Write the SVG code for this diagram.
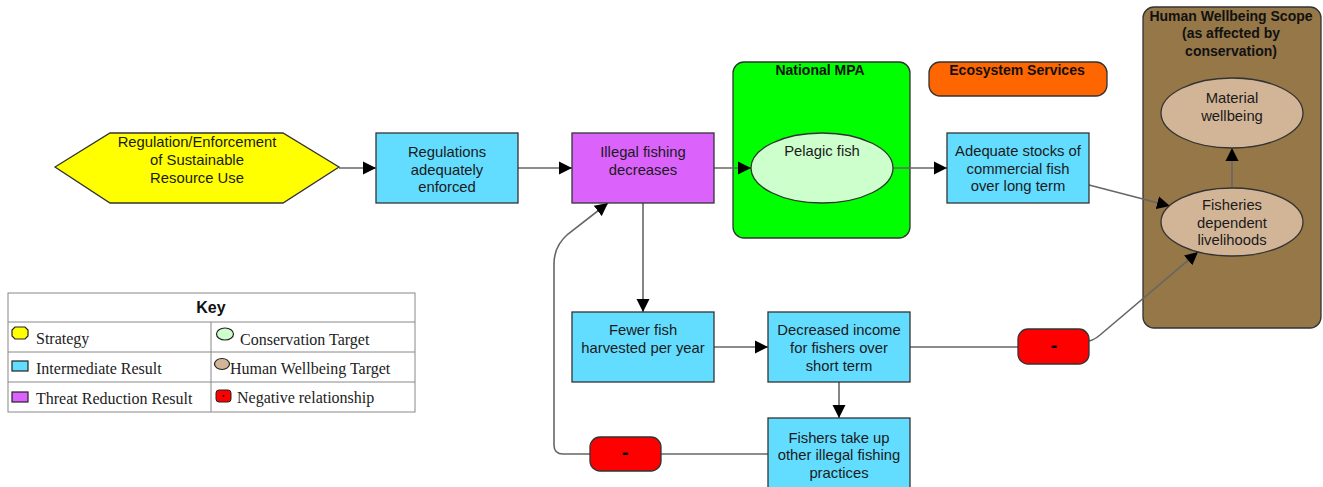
<svg xmlns="http://www.w3.org/2000/svg" width="1323" height="487" viewBox="0 0 1323 487">
  <style>
    .lbl { font-family: "Liberation Sans", Arial, sans-serif; font-size: 14.8px; fill: #1a1a1a; text-anchor: middle; }
    .ttl { font-family: "Liberation Sans", Arial, sans-serif; font-size: 14px; font-weight: bold; fill: #111; text-anchor: middle; }
    .key { font-family: "Liberation Serif", "Times New Roman", serif; font-size: 16px; fill: #222; }
    .ir { fill: #63ddff; stroke: #333; stroke-width: 1.3; }
    .trr { fill: #db63fb; stroke: #333; stroke-width: 1.3; }
    .ct { fill: #ccffcc; stroke: #333; stroke-width: 1.3; }
    .hw { fill: #d2b597; stroke: #333; stroke-width: 1.3; }
    .neg { fill: #ff0000; stroke: #333; stroke-width: 1.3; }
    .minus { font-family: "Liberation Sans", Arial, sans-serif; font-size: 20px; font-weight: bold; fill: #000; text-anchor: middle; }
    .link { fill: none; stroke: #666; stroke-width: 1.6; }
    .arr { marker-end: url(#head); }
    .grid { fill: none; stroke: #888; stroke-width: 1; }
  </style>
  <defs>
    <marker id="head" markerUnits="userSpaceOnUse" markerWidth="14" markerHeight="14" refX="13" refY="7" orient="auto">
      <path d="M0,0.5 L13,7 L0,13.5 z" fill="#000"/>
    </marker>
  </defs>

  <!-- scope containers -->
  <g id="scope-mpa">
    <rect x="733" y="62" width="177" height="176" rx="11" fill="#00ff00" stroke="#333" stroke-width="1.3"/>
    <text class="ttl" x="820" y="75">National MPA</text>
  </g>
  <g id="scope-ecosystem">
    <rect x="929" y="62" width="178" height="34" rx="11" fill="#ff6600" stroke="#333" stroke-width="1.3"/>
    <text class="ttl" x="1017" y="75">Ecosystem Services</text>
  </g>
  <g id="scope-wellbeing">
    <rect x="1143" y="7" width="178" height="321" rx="11" fill="#957748" stroke="#333" stroke-width="1.3"/>
    <text class="ttl" x="1231" y="21">Human Wellbeing Scope</text>
    <text class="ttl" x="1231" y="38">(as affected by</text>
    <text class="ttl" x="1231" y="56">conservation)</text>
  </g>

  <!-- connectors -->
  <g id="connectors">
    <line class="link arr" x1="339" y1="168" x2="376" y2="168"/>
    <line class="link arr" x1="518" y1="168" x2="572" y2="168"/>
    <line class="link arr" x1="714" y1="168" x2="751" y2="168"/>
    <line class="link arr" x1="893" y1="168" x2="947" y2="168"/>
    <line class="link arr" x1="1089" y1="185" x2="1170" y2="206"/>
    <line class="link arr" x1="1232" y1="188" x2="1232" y2="148"/>
    <line class="link arr" x1="643" y1="203" x2="643" y2="312"/>
    <line class="link arr" x1="714" y1="347" x2="768" y2="347"/>
    <line class="link arr" x1="839" y1="382" x2="839" y2="418"/>
    <line class="link" x1="910" y1="347" x2="1018" y2="347"/>
    <path class="link arr" d="M1089,341 Q1094,340 1100,335 L1198,252"/>
    <line class="link" x1="768" y1="454" x2="661" y2="454"/>
    <path class="link arr" d="M590,454 L563,454 Q554,454 554,445 L554,264 Q554,246 568,234 L608,203"/>
  </g>

  <!-- nodes -->
  <g id="strategy-regulation">
    <polygon points="55,167 110,133 283,133 339,167 283,203 110,203" fill="#ffff00" stroke="#333" stroke-width="1.3"/>
    <text class="lbl" x="197" y="146.5">Regulation/Enforcement</text>
    <text class="lbl" x="197" y="164.5">of Sustainable</text>
    <text class="lbl" x="197" y="182.5">Resource Use</text>
  </g>
  <g id="ir-regulations-enforced">
    <rect class="ir" x="376" y="133" width="142" height="70"/>
    <text class="lbl" x="447" y="157">Regulations</text>
    <text class="lbl" x="447" y="174.5">adequately</text>
    <text class="lbl" x="447" y="192">enforced</text>
  </g>
  <g id="trr-illegal-fishing">
    <rect class="trr" x="572" y="133" width="142" height="70"/>
    <text class="lbl" x="643" y="157">Illegal fishing</text>
    <text class="lbl" x="643" y="174.5">decreases</text>
  </g>
  <g id="target-pelagic-fish">
    <ellipse class="ct" cx="822" cy="168" rx="71" ry="35"/>
    <text class="lbl" x="822" y="156">Pelagic fish</text>
  </g>
  <g id="ir-adequate-stocks">
    <rect class="ir" x="947" y="133" width="142" height="70"/>
    <text class="lbl" x="1018" y="156">Adequate stocks of</text>
    <text class="lbl" x="1018" y="173.5">commercial fish</text>
    <text class="lbl" x="1018" y="191">over long term</text>
  </g>
  <g id="hw-material">
    <ellipse class="hw" cx="1232" cy="113" rx="71" ry="35"/>
    <text class="lbl" x="1232" y="103">Material</text>
    <text class="lbl" x="1232" y="121">wellbeing</text>
  </g>
  <g id="hw-fisheries-livelihoods">
    <ellipse class="hw" cx="1232" cy="222" rx="71" ry="34"/>
    <text class="lbl" x="1232" y="210">Fisheries</text>
    <text class="lbl" x="1232" y="227.5">dependent</text>
    <text class="lbl" x="1232" y="245">livelihoods</text>
  </g>
  <g id="ir-fewer-fish">
    <rect class="ir" x="572" y="312" width="142" height="70"/>
    <text class="lbl" x="643" y="334.5">Fewer fish</text>
    <text class="lbl" x="643" y="352.5">harvested per year</text>
  </g>
  <g id="ir-decreased-income">
    <rect class="ir" x="768" y="312" width="142" height="70"/>
    <text class="lbl" x="839" y="334.5">Decreased income</text>
    <text class="lbl" x="839" y="352.5">for fishers over</text>
    <text class="lbl" x="839" y="370.5">short term</text>
  </g>
  <g id="ir-other-illegal-practices">
    <rect class="ir" x="768" y="418" width="142" height="72"/>
    <text class="lbl" x="839" y="442.5">Fishers take up</text>
    <text class="lbl" x="839" y="460">other illegal fishing</text>
    <text class="lbl" x="839" y="478">practices</text>
  </g>
  <g id="neg-income-livelihoods">
    <rect class="neg" x="1018" y="329" width="71" height="35" rx="10"/>
    <text class="minus" x="1054" y="352">-</text>
  </g>
  <g id="neg-practices-illegal">
    <rect class="neg" x="590" y="437" width="71" height="34" rx="10"/>
    <text class="minus" x="625" y="459">-</text>
  </g>

  <!-- key -->
  <g id="key">
    <rect x="8" y="293" width="407" height="119" fill="#fff" stroke="#888" stroke-width="1"/>
    <line class="grid" x1="8" y1="322" x2="415" y2="322"/>
    <line class="grid" x1="8" y1="352" x2="415" y2="352"/>
    <line class="grid" x1="8" y1="382" x2="415" y2="382"/>
    <line class="grid" x1="211" y1="322" x2="211" y2="412"/>
    <text x="211" y="313" font-family="Liberation Sans, Arial, sans-serif" font-size="16" font-weight="bold" fill="#111" text-anchor="middle">Key</text>

    <polygon points="15,327 25,327 28,330 28,336 25,339 15,339 12,336 12,330" fill="#ffff00" stroke="#222" stroke-width="1.2"/>
    <text class="key" x="36" y="344">Strategy</text>
    <rect x="12" y="361" width="16" height="10" fill="#63ddff" stroke="#222" stroke-width="1.2"/>
    <text class="key" x="36" y="374">Intermediate Result</text>
    <rect x="12" y="392" width="16" height="10" fill="#db63fb" stroke="#222" stroke-width="1.2"/>
    <text class="key" x="36" y="404">Threat Reduction Result</text>

    <ellipse cx="225" cy="334" rx="8.5" ry="6" fill="#ccffcc" stroke="#222" stroke-width="1.2"/>
    <text class="key" x="240" y="345" font-size="17">Conservation Target</text>
    <ellipse cx="222" cy="364" rx="7.5" ry="5.5" fill="#d2b597" stroke="#222" stroke-width="1.2"/>
    <text class="key" x="230" y="374" font-size="17">Human Wellbeing Target</text>
    <rect x="216" y="390" width="15" height="12" rx="3" fill="#ff0000" stroke="#222" stroke-width="1"/>
    <circle cx="223.5" cy="396" r="0.9" fill="#000"/>
    <text class="key" x="237" y="403" font-size="16.5">Negative relationship</text>
  </g>
</svg>
